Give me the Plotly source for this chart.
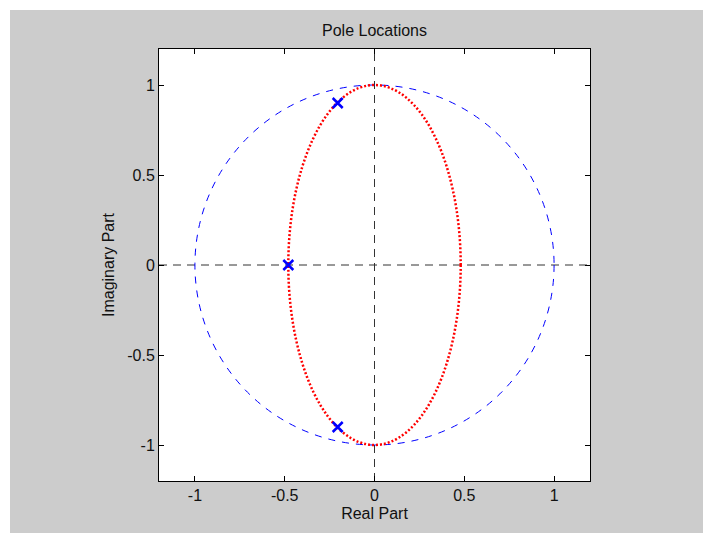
import plotly.graph_objects as go

# Data
pole_re = [-0.48, -0.205, -0.205]
pole_im = [0.0, 0.90, -0.90]
unit_circle = {"x0": -1.0, "x1": 1.0, "y0": -1.0, "y1": 1.0}
ellipse = {"x0": -0.48, "x1": 0.48, "y0": -1.0, "y1": 1.0}
axis_range = [-1.2, 1.2]
tick_vals = [-1, -0.5, 0, 0.5, 1]
tick_text = ["-1", "-0.5", "0", "0.5", "1"]

font = "Liberation Sans, Arial, sans-serif"

W, H = 703, 533
ML, MR, MT, MB = 159, 113, 49, 52
PW, PH = W - ML - MR, H - MT - MB
FRAME = 10  # white frame along top and left edges


def px_x(p):
    return (p - ML) / PW


def px_y(p):
    return (H - MB - p) / PH


fig = go.Figure()
fig.add_trace(go.Scatter(
    x=pole_re, y=pole_im, mode="markers",
    marker=dict(symbol="x-thin", size=10, line=dict(color="#0000ff", width=2.5)),
    showlegend=False, hoverinfo="skip"))

shapes = [
    dict(type="rect", xref="paper", yref="paper", x0=px_x(0), x1=px_x(W), y0=px_y(FRAME), y1=px_y(0),
         line=dict(width=0), fillcolor="white", layer="below"),
    dict(type="rect", xref="paper", yref="paper", x0=px_x(0), x1=px_x(FRAME), y0=px_y(H), y1=px_y(0),
         line=dict(width=0), fillcolor="white", layer="below"),
    dict(type="line", xref="x", yref="y", x0=axis_range[0], x1=axis_range[1], y0=0, y1=0,
         line=dict(color="#333333", width=1, dash="8px,6px"), layer="below"),
    dict(type="line", xref="x", yref="y", x0=0, x1=0, y0=axis_range[0], y1=axis_range[1],
         line=dict(color="#333333", width=1, dash="8px,6px"), layer="below"),
    dict(type="circle", xref="x", yref="y", **unit_circle,
         line=dict(color="#0000ff", width=1, dash="7px,7px"), layer="below"),
    dict(type="circle", xref="x", yref="y", **ellipse,
         line=dict(color="#ff0000", width=2.5, dash="2px,2px"), layer="below"),
]

axis_common = dict(
    range=axis_range, tickvals=tick_vals, ticktext=tick_text,
    ticks="inside", ticklen=5, tickcolor="black", tickwidth=1,
    showline=True, linecolor="black", linewidth=1, mirror="ticks",
    showgrid=False, zeroline=False,
    tickfont=dict(family=font, size=16, color="#111111"),
)

fig.update_layout(
    width=W, height=H,
    margin=dict(l=ML, r=MR, t=MT, b=MB),
    paper_bgcolor="#cccccc", plot_bgcolor="white",
    shapes=shapes,
    title=dict(text="Pole Locations", x=(ML + W - MR) / 2 / W, xanchor="center",
               y=1 - 30 / H, yanchor="middle",
               font=dict(family=font, size=16, color="#111111")),
    xaxis=dict(**axis_common,
               title=dict(text="Real Part", standoff=4,
                          font=dict(family=font, size=16, color="#111111"))),
    yaxis=dict(**axis_common,
               title=dict(text="Imaginary Part", standoff=8,
                          font=dict(family=font, size=16, color="#111111"))),
)

fig.write_html("out.html")
